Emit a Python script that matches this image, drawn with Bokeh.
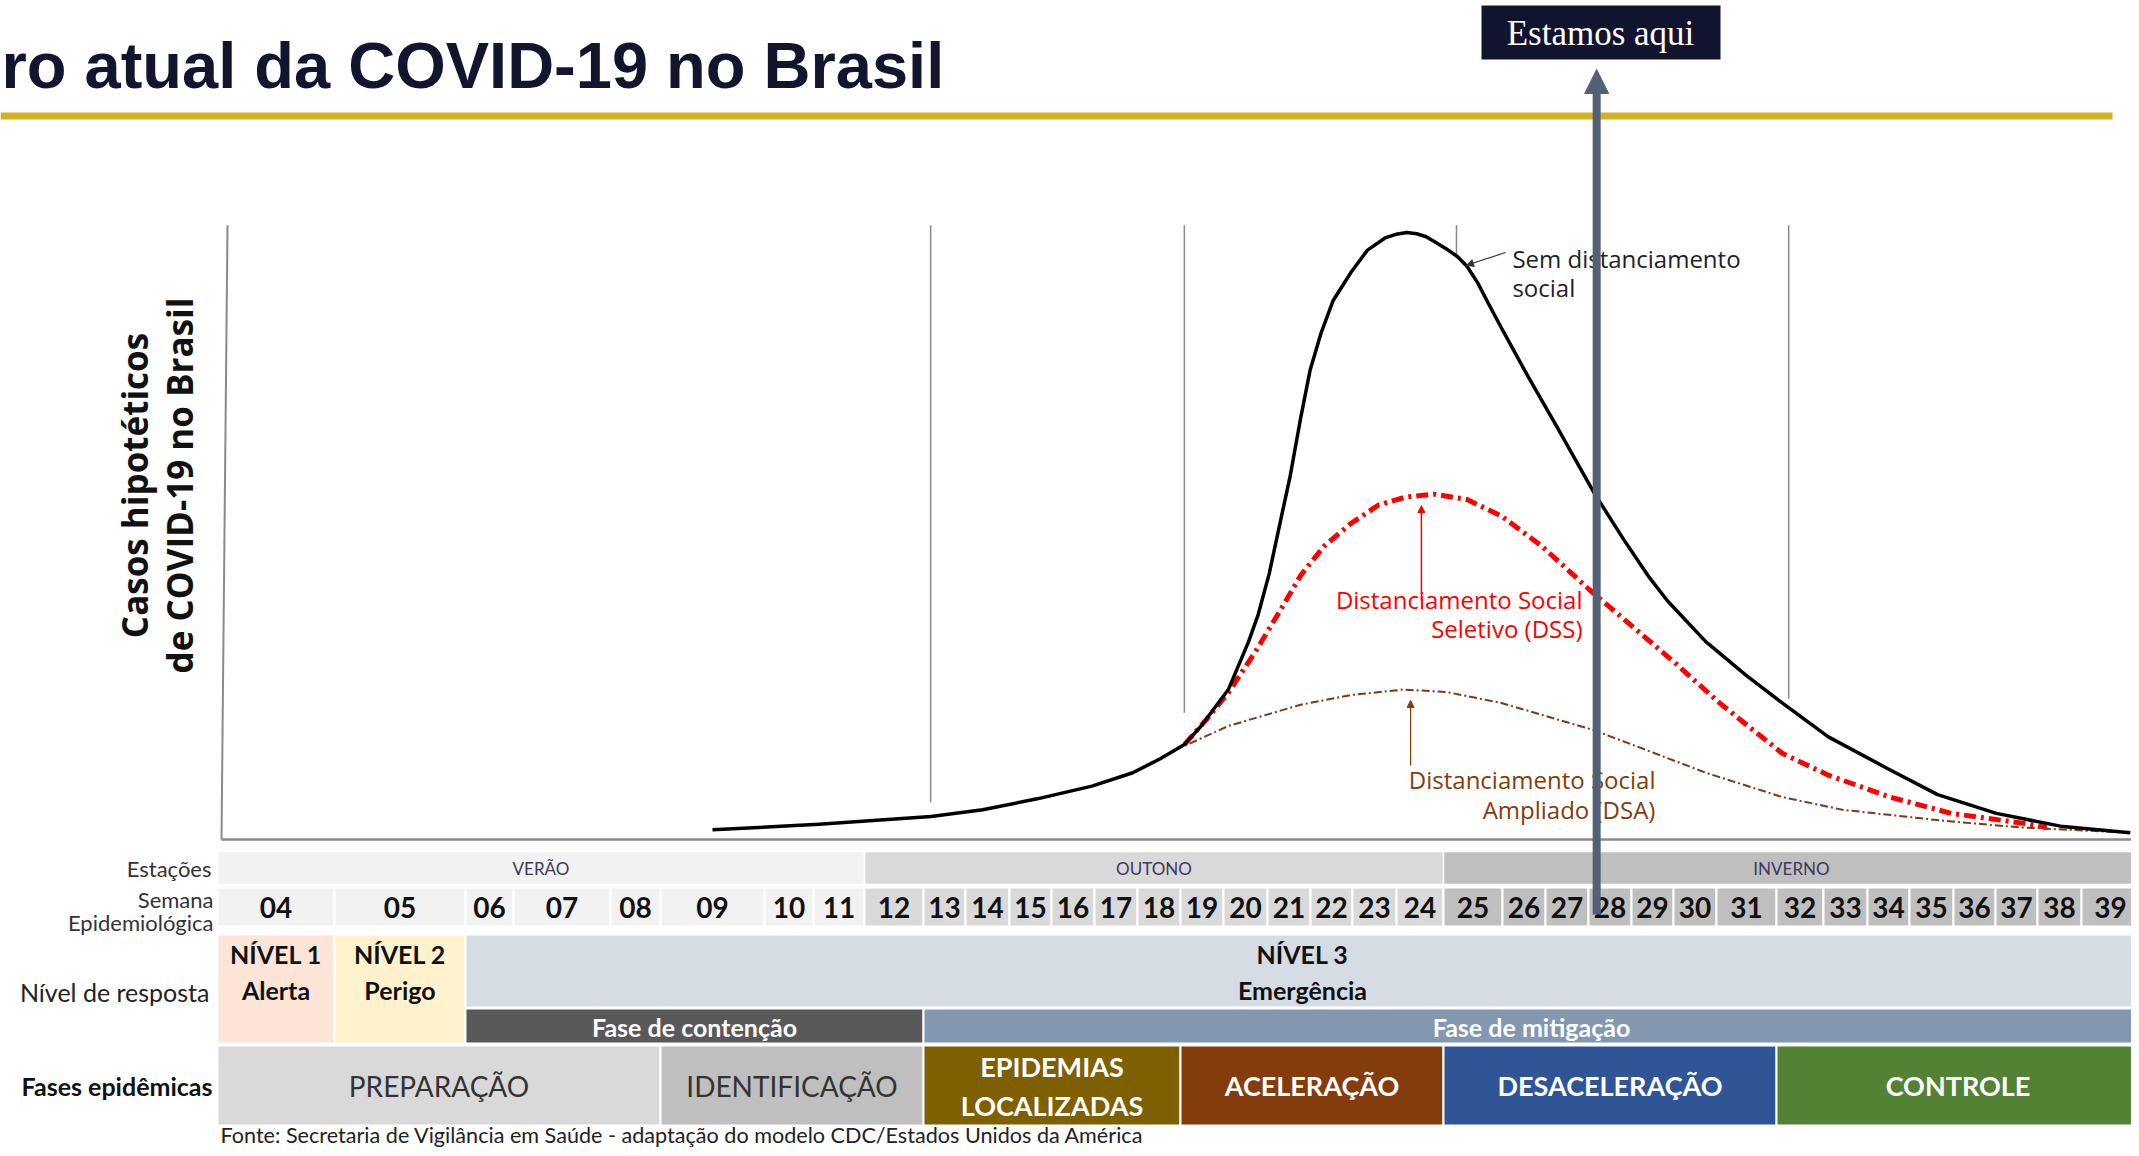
import numpy as np
from bokeh.plotting import figure
from bokeh.models import Range1d, Arrow, NormalHead
from bokeh.core.properties import value
from bokeh.embed import file_html
from bokeh.resources import INLINE

# ---------------- data ----------------
titulo = "ro atual da COVID-19 no Brasil"
rotulo_y1 = "Casos hipotéticos"
rotulo_y2 = "de COVID-19 no Brasil"
fonte = "Fonte: Secretaria de Vigilância em Saúde - adaptação do modelo CDC/Estados Unidos da América"

semanas = ["04", "05", "06", "07", "08", "09", "10", "11", "12", "13", "14", "15",
           "16", "17", "18", "19", "20", "21", "22", "23", "24", "25", "26", "27",
           "28", "29", "30", "31", "32", "33", "34", "35", "36", "37", "38", "39"]

estacoes = ["VERÃO", "OUTONO", "INVERNO"]
estacoes_ini = [4, 12, 25]
estacoes_fim = [11, 24, 39]
estacoes_cor = ["#f2f2f2", "#d9d9d9", "#bfbfbf"]

niveis_l1 = ["NÍVEL 1", "NÍVEL 2", "NÍVEL 3"]
niveis_l2 = ["Alerta", "Perigo", "Emergência"]
niveis_ini = [4, 5, 6]
niveis_fim = [4, 5, 39]
niveis_cor = ["#fce4d6", "#fff2cc", "#d6dce4"]

fases_resp = ["Fase de contenção", "Fase de mitigação"]
fases_resp_ini = [6, 13]
fases_resp_fim = [12, 39]
fases_resp_cor = ["#595959", "#8497b0"]

fases_epi = ["PREPARAÇÃO", "IDENTIFICAÇÃO", "EPIDEMIAS\nLOCALIZADAS",
             "ACELERAÇÃO", "DESACELERAÇÃO", "CONTROLE"]
fases_epi_ini = [4, 9, 13, 19, 25, 32]
fases_epi_fim = [8, 12, 18, 24, 31, 39]
fases_epi_cor = ["#d9d9d9", "#bfbfbf", "#7f6000", "#843c0c", "#2f5597", "#548235"]
fases_epi_txt = ["#333333", "#333333", "#ffffff", "#ffffff", "#ffffff", "#ffffff"]

# curves: epidemiological week (fractional) and relative cases (peak = 100)
sem_t = [9.00, 10.61, 12.68, 13.89, 15.16, 16.44, 17.39, 18.03, 18.60, 18.98, 19.61,
         20.07, 20.29, 20.54, 20.86, 21.02, 21.27, 21.49, 21.75, 22.04, 22.47, 22.84,
         23.24, 23.49, 23.72, 23.93, 24.13, 24.33, 24.55, 24.74, 24.90, 25.08, 25.25,
         25.48, 25.79, 26.10, 26.74, 27.63, 28.32, 28.90, 29.36, 30.25, 31.00, 31.62,
         32.61, 34.03, 35.14, 36.52, 38.02, 39.34]
sem_v = [1.6, 2.5, 3.8, 4.9, 6.7, 8.8, 11.0, 13.3, 15.7, 18.7, 24.7,
         32.6, 37.1, 43.8, 54.4, 59.6, 69.4, 77.3, 83.4, 88.8, 93.5, 97.1,
         99.1, 99.7, 100.0, 99.8, 99.3, 98.4, 97.3, 96.0, 94.4, 91.7, 88.5,
         84.3, 80.2, 76.2, 68.3, 57.1, 49.4, 43.4, 39.3, 32.6, 27.0, 22.5,
         16.9, 11.5, 7.4, 4.3, 2.2, 1.1]

dss_t = [18.60, 19.13, 19.61, 20.23, 20.86, 21.27, 21.82, 22.47, 23.09, 23.69, 24.30,
         24.90, 25.48, 26.42, 27.53, 28.64, 29.55, 30.55, 31.62, 32.61, 34.03, 35.45,
         37.14, 37.71]
dss_v = [15.7, 20.0, 24.2, 31.0, 38.5, 43.5, 48.3, 52.1, 55.1, 56.4, 56.9,
         56.0, 53.3, 48.3, 41.1, 34.4, 29.0, 22.5, 14.2, 10.6, 7.0, 4.3,
         2.7, 2.0]

dsa_t = [17.39, 18.34, 19.61, 21.27, 22.47, 23.64, 24.55, 25.48, 27.63, 28.64, 30.25,
         31.62, 32.93, 35.26, 37.07, 39.34]
dsa_v = [11.0, 14.6, 18.7, 22.2, 23.8, 24.7, 24.3, 22.5, 18.0, 15.3, 11.0,
         7.0, 4.9, 3.1, 2.0, 1.1]

semana_atual = 27.69
divisorias_t = [12.67, 18.59, 24.72, 31.76]
divisorias_base = [6.1, 20.9, 96.2, 23.2]

# ---------------- layout ----------------
W, H = 2131, 1148
TABLE_LEFT = 217
larguras = [117, 131, 48, 97, 50, 104, 49, 51, 59, 42, 44, 42, 43, 43, 43, 43, 44, 43,
            42, 44, 47, 59, 43, 43, 43, 42, 43, 60, 47, 44, 42, 44, 42, 42, 44, 58]
semana_num = [int(s) for s in semanas]
edges_t = np.array([semana_num[0] - 0.5] + [n + 0.5 for n in semana_num])
edges_x = TABLE_LEFT + np.concatenate([[0], np.cumsum(larguras)])


def wx(t):
    return np.interp(t, edges_t, edges_x)


BASE_Y, TOP100_Y = 839, 232
K = 100.0 / (BASE_Y - TOP100_Y)

p = figure(width=W, height=H, output_backend="svg", toolbar_location=None,
           x_range=Range1d(0, W), y_range=Range1d(H, 0),
           x_axis_location=None, y_axis_location=None, min_border=0)
p.extra_y_ranges = {"casos": Range1d((BASE_Y - H) * K, BASE_Y * K)}
p.grid.visible = False
p.outline_line_color = None
p.background_fill_color = "white"
p.border_fill_color = "white"


def txt(x, y, s, size, color="#222222", font="Lato", style="normal", align="center",
        baseline="middle", angle=0.0, yr="default"):
    p.text(x=[x], y=[y], text=[s], text_font=value(font), text_font_size=f"{size}px",
           text_color=color, text_font_style=style, text_align=align,
           text_baseline=baseline, angle=angle, y_range_name=yr)


# title + gold rule
txt(1, 65, titulo, 65, color="#11152e", font="Liberation Sans", style="bold", align="left")
p.quad(left=[0], right=[2112], top=[112], bottom=[119], fill_color="#d3b123", line_color=None)

# chart frame
p.line(x=[227, 221], y=[101.2, 0], line_color="#8a8a8a", line_width=2, y_range_name="casos")
p.line(x=[221, W], y=[0, 0], line_color="#8a8a8a", line_width=2.5, y_range_name="casos")
p.segment(x0=wx(np.array(divisorias_t)), x1=wx(np.array(divisorias_t)),
          y0=[101.2] * 4, y1=divisorias_base, line_color="#8a8a8a", line_width=1.5,
          y_range_name="casos")

# axis title
txt(134, 485, rotulo_y1, 35, color="#111111", font="Open Sans", style="bold", angle=np.pi / 2)
txt(179, 485, rotulo_y2, 35, color="#111111", font="Open Sans", style="bold", angle=np.pi / 2)

# curves
p.line(wx(np.array(dsa_t)), dsa_v, line_color="#7b3a14", line_width=2, line_dash="8 3 2 3",
       y_range_name="casos")
p.line(wx(np.array(dss_t)), dss_v, line_color="#ff0000", line_width=5, line_dash="12 5 3 5",
       y_range_name="casos")
p.line(wx(np.array(sem_t)), sem_v, line_color="#000000", line_width=3.5, line_join="round",
       y_range_name="casos")

# curve labels + pointers
p.add_layout(Arrow(x_start=wx(25.57), y_start=96.7, x_end=wx(24.89), y_end=94.6,
                   line_color="#333333", line_width=1.2, y_range_name="casos",
                   end=NormalHead(size=7, fill_color="#333333", line_color="#333333")))
txt(wx(25.73), 95.7, "Sem distanciamento", 24, color="#222222", font="Open Sans",
    align="left", yr="casos")
txt(wx(25.73), 90.9, "social", 24, color="#222222", font="Open Sans", align="left", yr="casos")

p.add_layout(Arrow(x_start=wx(24.03), y_start=39.4, x_end=wx(24.03), y_end=55.0,
                   line_color="#ff0000", line_width=1.5, y_range_name="casos",
                   end=NormalHead(size=7, fill_color="#ff0000", line_color="#ff0000")))
txt(wx(27.36), 39.5, "Distanciamento Social", 24, color="#ff0000", font="Open Sans",
    align="right", yr="casos")
txt(wx(27.36), 34.8, "Seletivo (DSS)", 24, color="#ff0000", font="Open Sans",
    align="right", yr="casos")

p.add_layout(Arrow(x_start=wx(23.80), y_start=12.2, x_end=wx(23.80), y_end=22.9,
                   line_color="#843c0c", line_width=1.2, y_range_name="casos",
                   end=NormalHead(size=7, fill_color="#843c0c", line_color="#843c0c")))
txt(wx(29.07), 9.9, "Distanciamento Social", 24, color="#843c0c", font="Open Sans",
    align="right", yr="casos")
txt(wx(29.07), 4.9, "Ampliado (DSA)", 24, color="#843c0c", font="Open Sans",
    align="right", yr="casos")

# ---------------- table ----------------
LBL_X = 211
txt(LBL_X, 868, "Estações", 22, color="#333333", align="right")
txt(LBL_X + 2, 899, "Semana", 22, color="#333333", align="right")
txt(LBL_X + 2, 922, "Epidemiológica", 22, color="#333333", align="right")
txt(LBL_X - 2, 991, "Nível de resposta", 25, color="#222222", align="right")
txt(LBL_X + 1, 1085, "Fases epidêmicas", 25, color="#111111", style="bold", align="right")

# seasons row
for nome, a, b, c in zip(estacoes, estacoes_ini, estacoes_fim, estacoes_cor):
    l, r = wx(a - 0.5), wx(b + 0.5)
    p.quad(left=[l], right=[r], top=[851], bottom=[884], fill_color=c, line_color="white",
           line_width=1.5)
    txt((l + r) / 2, 868, nome, 17, color="#3d3a5c")

# weeks row
for s, n in zip(semanas, semana_num):
    c = estacoes_cor[[i for i in range(3) if estacoes_ini[i] <= n <= estacoes_fim[i]][0]]
    l, r = wx(n - 0.5), wx(n + 0.5)
    p.quad(left=[l], right=[r], top=[887], bottom=[926], fill_color=c, line_color="white",
           line_width=2)
    txt((l + r) / 2, 907, s, 28, color="#111111", style="bold")

# response levels
for l1, l2, a, b, c in zip(niveis_l1, niveis_l2, niveis_ini, niveis_fim, niveis_cor):
    l, r = wx(a - 0.5), wx(b + 0.5)
    bottom = 1043 if a == b else 1007
    p.quad(left=[l], right=[r], top=[934], bottom=[bottom], fill_color=c, line_color="white",
           line_width=2)
    txt((l + r) / 2, 953, l1, 25, color="#111111", style="bold")
    txt((l + r) / 2, 989, l2, 25, color="#111111", style="bold")

for nome, a, b, c in zip(fases_resp, fases_resp_ini, fases_resp_fim, fases_resp_cor):
    l, r = wx(a - 0.5), wx(b + 0.5)
    p.quad(left=[l], right=[r], top=[1008], bottom=[1043], fill_color=c, line_color="white",
           line_width=2)
    txt((l + r) / 2, 1026, nome, 25, color="#ffffff", style="bold")

# epidemic phases
for nome, a, b, c, tc in zip(fases_epi, fases_epi_ini, fases_epi_fim, fases_epi_cor, fases_epi_txt):
    l, r = wx(a - 0.5), wx(b + 0.5)
    p.quad(left=[l], right=[r], top=[1045], bottom=[1125], fill_color=c, line_color="white",
           line_width=2)
    st = "normal" if tc == "#333333" else "bold"
    sz = 28 if tc == "#333333" else 27
    linhas = nome.split("\n")
    if len(linhas) == 1:
        txt((l + r) / 2, 1085, nome, sz, color=tc, style=st)
    else:
        txt((l + r) / 2, 1066, linhas[0], sz, color=tc, style=st)
        txt((l + r) / 2, 1105, linhas[1], sz, color=tc, style=st)

txt(220, 1134, fonte, 21.6, color="#222222", align="left")

# "Estamos aqui"
p.quad(left=[1481], right=[1720], top=[5], bottom=[59], fill_color="#10142e", line_color=None)
txt(1600, 33, "Estamos aqui", 35, color="#ffffff", font="Liberation Serif")
p.add_layout(Arrow(x_start=wx(semana_atual), y_start=914, x_end=wx(semana_atual), y_end=69,
                   line_color="#536178", line_width=8,
                   end=NormalHead(size=24, fill_color="#536178", line_color="#536178", line_width=1)))

open("out.html", "w").write(file_html(p, INLINE))
